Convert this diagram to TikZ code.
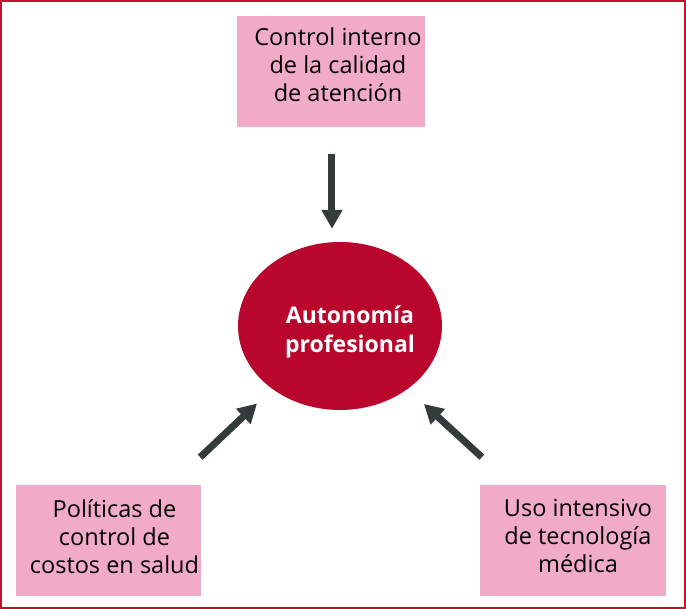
\documentclass[tikz,border=0pt]{standalone}
\usepackage{fontspec}
\setmainfont{Open Sans}
\usetikzlibrary{positioning, shapes.geometric, arrows.meta}

\definecolor{rosa}{RGB}{241,170,199}
\definecolor{rojo}{RGB}{185,6,44}
\definecolor{marco}{RGB}{200,16,46}
\definecolor{gris}{RGB}{52,60,59}

\begin{document}
\begin{tikzpicture}[
  caja/.style={rectangle, fill=rosa, minimum width=186pt, minimum height=111pt},
  texto/.style={align=center, font=\fontsize{23.5}{28}\selectfont},
  flecha/.style={draw=gris, line width=7pt, -{Triangle[width=20pt,length=19pt]}}]
  % Marco
  \useasboundingbox (-340pt,-283pt) rectangle (346pt,326pt);
  \draw[marco, line width=2pt] (-339pt,-282pt) rectangle (345pt,325pt);

  % Autonomía profesional
  \node[ellipse, fill=rojo, minimum width=204pt, minimum height=168pt, inner sep=0pt] (autonomia) at (0,0) {};
  \node[texto, text=white, font=\fontsize{23}{29}\selectfont\bfseries] (autonomiat) at ([xshift=10pt,yshift=-6pt]autonomia.center) {Autonomía\\profesional};

  % Control interno (arriba)
  \node[caja, minimum width=188pt, above=115pt of autonomia, xshift=-9pt] (control) {};
  \node[texto] (controlt) at ([xshift=7pt,yshift=6pt]control.center) {Control interno\\de la calidad\\de atención};

  % Políticas de control (abajo izquierda)
  \node[caja, minimum width=185pt, below=75pt of autonomia, xshift=-231.5pt] (politicas) {};
  \node[texto] (politicast) at ([xshift=6pt,yshift=4pt]politicas.center) {Políticas de\\control de\\costos en salud};

  % Uso intensivo (abajo derecha)
  \node[caja, below=75pt of autonomia, xshift=233pt] (uso) {};
  \node[texto] (usot) at ([xshift=5pt,yshift=5pt]uso.center) {Uso intensivo\\de tecnología\\médica};

  % Flechas
  \coordinate (ini1) at ([xshift=-1pt,yshift=28pt]politicas.north east);
  \coordinate (ini2) at ([xshift=2pt,yshift=28pt]uso.north west);
  \draw[flecha, shorten <=27pt, shorten >=13pt] ([xshift=1pt]control.south) -- ([xshift=1pt]control.south |- autonomia.north);
  \draw[flecha, shorten >=21pt] (ini1) -- (autonomia.223);
  \draw[flecha, shorten >=22pt] (ini2) -- (autonomia.317);
\end{tikzpicture}
\end{document}
